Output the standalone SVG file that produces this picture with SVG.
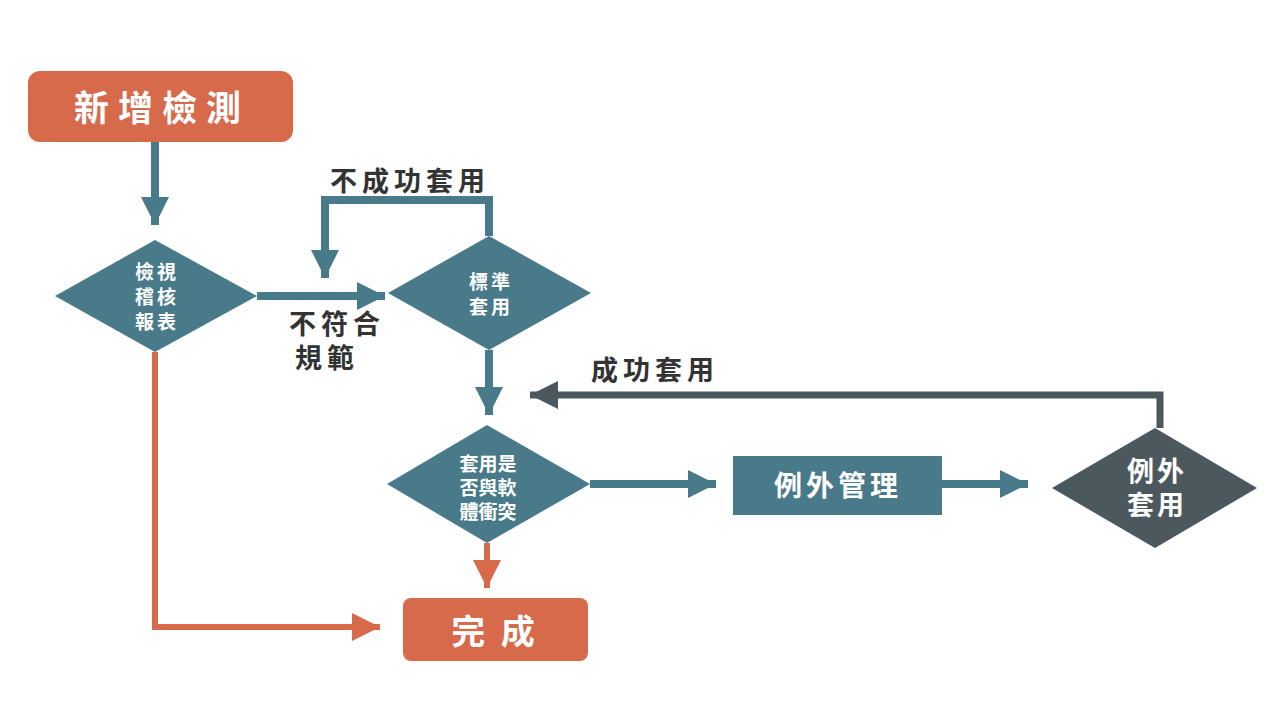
<svg xmlns="http://www.w3.org/2000/svg" width="1280" height="720" viewBox="0 0 1280 720">
<style>
text{font-family:"Noto Sans CJK TC","Noto Sans CJK SC",sans-serif;font-weight:bold;text-anchor:middle;dominant-baseline:central}
.w{fill:#fff}.l{fill:#333;font-size:27px;letter-spacing:5px}
.s{font-size:19px;letter-spacing:3px}
.t{stroke:#487a8a;stroke-width:8;fill:none}.o{stroke:#d66a4b;stroke-width:6;fill:none}.d{stroke:#4b585e;stroke-width:7;fill:none}
</style>
<defs>
<marker id="at" markerUnits="userSpaceOnUse" markerWidth="34" markerHeight="34" refX="28" refY="14" orient="auto"><path d="M0,0L28,14L0,28Z" fill="#487a8a"/></marker>
<marker id="ao" markerUnits="userSpaceOnUse" markerWidth="34" markerHeight="34" refX="28" refY="14" orient="auto"><path d="M0,0L28,14L0,28Z" fill="#d66a4b"/></marker>
<marker id="ad" markerUnits="userSpaceOnUse" markerWidth="34" markerHeight="34" refX="28" refY="14" orient="auto"><path d="M0,0L28,14L0,28Z" fill="#4b585e"/></marker>
</defs>
<rect width="1280" height="720" fill="#fff"/>
<g id="connectors">
<path class="t" d="M155,142V225" marker-end="url(#at)"/>
<path class="t" d="M257,296H385" marker-end="url(#at)"/>
<path class="t" d="M489,236V200H325V278" marker-end="url(#at)"/>
<path class="t" d="M489,350V415" marker-end="url(#at)"/>
<path class="t" d="M590,484H716" marker-end="url(#at)"/>
<path class="t" d="M942,484H1028" marker-end="url(#at)"/>
<path class="d" d="M1160,428V395H530" marker-end="url(#ad)"/>
<path class="o" d="M487,543V588" marker-end="url(#ao)"/>
<path class="o" d="M155,352V627H380" marker-end="url(#ao)"/>
<text class="l" x="410" y="179">不成功套用</text>
<text class="l" x="337" y="322">不符合</text>
<text class="l" x="327" y="356">規範</text>
<text class="l" x="655" y="368">成功套用</text>
</g>
<g id="n1"><rect x="28" y="71" width="265" height="71" rx="12" fill="#d66a4b"/><text class="w" x="162" y="105" font-size="35" letter-spacing="9">新增檢測</text></g>
<g id="n2"><path d="M155,240L257,296L155,352L55,296Z" fill="#487a8a"/><text class="w s" x="157" y="270">檢視</text><text class="w s" x="157" y="295">稽核</text><text class="w s" x="157" y="320">報表</text></g>
<g id="n3"><path d="M489,236L591,293L489,350L388,293Z" fill="#487a8a"/><text class="w s" x="491" y="280">標準</text><text class="w s" x="491" y="305">套用</text></g>
<g id="n4"><path d="M487,425L590,484L487,543L387,484Z" fill="#487a8a"/><text class="w" font-size="19" x="488" y="462">套用是</text><text class="w" font-size="19" x="488" y="486">否與軟</text><text class="w" font-size="19" x="488" y="510">體衝突</text></g>
<g id="n5"><rect x="733" y="456" width="209" height="59" fill="#487a8a"/><text class="w" x="838" y="484" font-size="28" letter-spacing="4">例外管理</text></g>
<g id="n6"><path d="M1155,428L1257,488L1155,548L1052,488Z" fill="#4b585e"/><text class="w" font-size="27" letter-spacing="3" x="1157" y="469">例外</text><text class="w" font-size="27" letter-spacing="3" x="1157" y="503">套用</text></g>
<g id="n7"><rect x="403" y="598" width="185" height="63" rx="8" fill="#d66a4b"/><text class="w" x="495" y="629" font-size="34" letter-spacing="4">完 成</text></g>
</svg>
